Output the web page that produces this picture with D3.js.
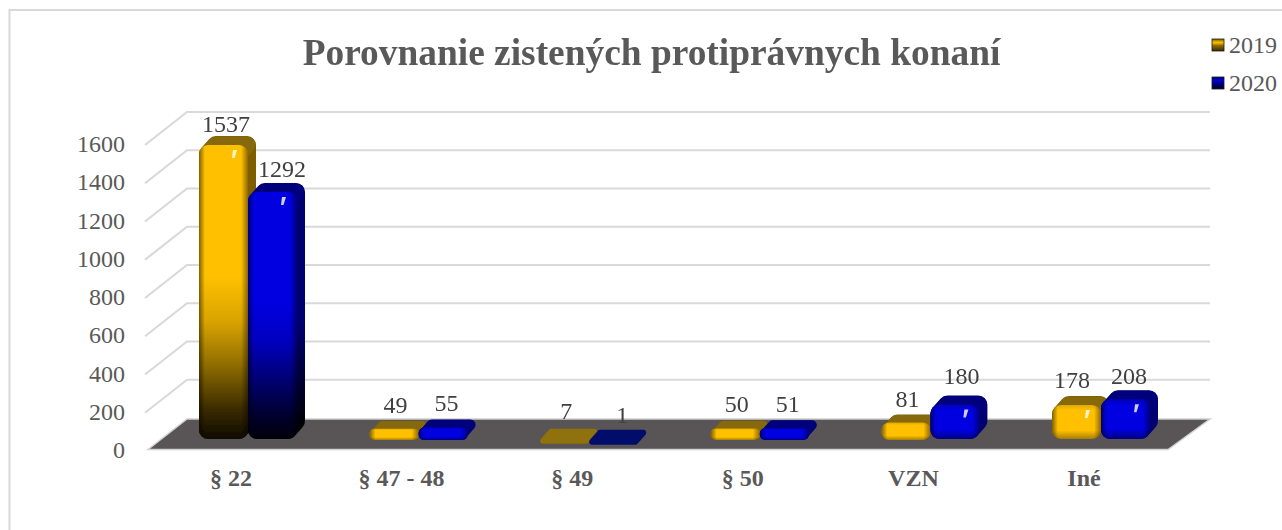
<!DOCTYPE html>
<html lang='en'>
<head>
    <meta charset='UTF-8'>
    <title>Porovnanie zistených protiprávnych konaní</title>
    <style>
        html, body { margin: 0; padding: 0; background: #fff; overflow: hidden; }
        svg { display: block; font-family: 'Liberation Serif', serif; }
        .grid { stroke: #d9d9d9; stroke-width: 2.2px; fill: none; }
        .tick-label { font-size: 24px; fill: #595959; }
        .cat-label { font-size: 24px; font-weight: bold; fill: #595959; }
        .val-label { font-size: 24px; fill: #404040; }
    </style>
</head>
<body>
    <div id="chart-wrapper"></div>
    <script src='https://d3js.org/d3.v7.min.js'></script>
    <script>
        const categories = ['§ 22', '§ 47 - 48', '§ 49', '§ 50', 'VZN', 'Iné']
        const years = ['2019', '2020']
        const values2019 = [1537, 49, 7, 50, 81, 178]
        const values2020 = [1292, 55, 1, 51, 180, 208]
        const yTicks = [0, 200, 400, 600, 800, 1000, 1200, 1400, 1600]
        const titleText = 'Porovnanie zistených protiprávnych konaní'

        const width = 1282
        const height = 530
        const barW = 49
        const depthX = 8 // 3d depth of a bar
        const depthY = 9
        const wallX = 39 // 3d depth of the floor
        const wallY = 30
        const baseLift = 10 // bars stand this far behind the front edge of the floor
        const corner = 9

        const colors = {
            '2019': {
                front: '#ffc000', mid: '#e0a800', side: '#7d5e00', top: '#86680a', flat: '#8f7208',
                fade: ['#d9a300', '#8f6c00', '#3a2b00', '#0f0a00'], low: '#a67d00'
            },
            '2020': {
                front: '#0000e0', mid: '#0000b8', side: '#000070', top: '#00007c', flat: '#000a6a',
                fade: ['#0000c0', '#000078', '#000030', '#000008'], low: '#000080'
            }
        }

        const svg = d3.select('#chart-wrapper').append('svg')
            .attr('width', width)
            .attr('height', height)

        const x = d3.scaleBand().domain(categories).range([148, 1171.6])
        const xSeries = d3.scaleBand().domain(years).range([51, 51 + barW * 2])
        const y = d3.scaleLinear().domain([0, 1600]).range([449, 143])

        // chart frame
        svg.append('path')
            .attr('d', `M${width + 2},10H9.5V${height + 2}`)
            .attr('fill', 'none')
            .attr('stroke', '#d9d9d9')
            .attr('stroke-width', 2)

        // gradients
        const defs = svg.append('defs')
        defs.append('filter').attr('id', 'soft')
            .append('feGaussianBlur').attr('stdDeviation', 0.6)

        years.forEach(year => {
            const c = colors[year]
            const tall = defs.append('linearGradient').attr('id', `tall${year}`)
                .attr('x1', 0).attr('y1', 0).attr('x2', 0).attr('y2', 1)
            tall.append('stop').attr('offset', 0).attr('stop-color', c.front)
            tall.append('stop').attr('offset', 0.45).attr('stop-color', c.front)
            tall.append('stop').attr('offset', 0.6).attr('stop-color', c.fade[0])
            tall.append('stop').attr('offset', 0.75).attr('stop-color', c.fade[1])
            tall.append('stop').attr('offset', 0.9).attr('stop-color', c.fade[2])
            tall.append('stop').attr('offset', 1).attr('stop-color', c.fade[3])

            const short = defs.append('linearGradient').attr('id', `short${year}`)
                .attr('x1', 0).attr('y1', 0).attr('x2', 0).attr('y2', 1)
            short.append('stop').attr('offset', 0).attr('stop-color', c.mid)
            short.append('stop').attr('offset', 0.15).attr('stop-color', c.front)
            short.append('stop').attr('offset', 0.75).attr('stop-color', c.front)
            short.append('stop').attr('offset', 1).attr('stop-color', c.low)

            const sideShade = defs.append('linearGradient').attr('id', `side${year}`)
                .attr('x1', 0).attr('y1', 0).attr('x2', 0).attr('y2', 1)
            sideShade.append('stop').attr('offset', 0).attr('stop-color', c.side)
            sideShade.append('stop').attr('offset', 0.55).attr('stop-color', c.side)
            sideShade.append('stop').attr('offset', 1).attr('stop-color', '#050300')

            const key = defs.append('linearGradient').attr('id', `key${year}`)
                .attr('x1', 0).attr('y1', 0).attr('x2', 0).attr('y2', 1)
            key.append('stop').attr('offset', 0).attr('stop-color', c.side)
            key.append('stop').attr('offset', 0.3).attr('stop-color', c.front)
            key.append('stop').attr('offset', 0.55).attr('stop-color', c.fade[1])
            key.append('stop').attr('offset', 1).attr('stop-color', c.fade[2])
        })
        const edge = defs.append('linearGradient').attr('id', 'edgeShade')
        edge.append('stop').attr('offset', 0).attr('stop-color', '#000').attr('stop-opacity', 0.5)
        edge.append('stop').attr('offset', 0.12).attr('stop-color', '#000').attr('stop-opacity', 0)
        edge.append('stop').attr('offset', 0.86).attr('stop-color', '#000').attr('stop-opacity', 0)
        edge.append('stop').attr('offset', 1).attr('stop-color', '#000').attr('stop-opacity', 0.45)

        // back wall grid + side wall diagonals
        const floorLeft = x.range()[0]
        const floorRight = 1168
        const gridG = svg.append('g')
        gridG.selectAll('path')
            .data(yTicks.filter(d => d > 0))
            .join('path')
            .attr('class', 'grid')
            .attr('d', d => `M${floorLeft - 3},${y(d) + 2}L${floorLeft + wallX},${y(d) - wallY - 1}H1210`)

        // floor
        svg.append('path')
            .attr('d', `M${floorLeft},${y(0) + 0.5}L${floorLeft + wallX},${y(0) - wallY}H1210L${floorRight},${y(0) + 0.5}Z`)
            .attr('fill', '#595455')
            .attr('stroke', '#d0d0d0')
            .attr('stroke-width', 1.5)
            .attr('stroke-linejoin', 'miter')

        // y axis
        const yAxis = d3.axisLeft(y).tickValues(yTicks).tickFormat(d3.format('d')).tickSize(0).tickPadding(0)
        const yG = svg.append('g')
            .attr('transform', 'translate(125,1)')
            .call(yAxis)
            .attr('font-family', null)
            .attr('font-size', null)
        yG.select('.domain').remove()
        yG.selectAll('text')
            .attr('class', 'tick-label')
            .attr('fill', null)

        // category labels
        svg.append('g').selectAll('text')
            .data(categories)
            .join('text')
            .attr('class', 'cat-label')
            .attr('text-anchor', 'middle')
            .attr('x', d => x(d) + 83)
            .attr('y', 486)
            .text(d => d)

        // small manual label moves, the way the source chart has them
        const labelNudgeX = { '2019-§ 22': 1, '2020-§ 22': 6, '2020-§ 49': 5, '2020-VZN': 3, '2019-Iné': -6 }
        const labelNudgeY = {
            '2019-§ 22': 4, '2020-§ 22': 2, '2019-§ 49': -2, '2020-§ 49': 1,
            '2020-VZN': -4, '2020-Iné': 2
        }
        const labels = []

        function drawBar(g, year, category, value) {
            const c = colors[year]
            const left = x(category) + xSeries(year)
            const base = y(0) - baseLift
            const h = y(0) - y(value)
            const topY = base - h
            const r = Math.min(corner, Math.max(h / 2, 3))
            const isTall = value > 500
            const isFlat = value < 10
            const lowY = Math.max(base - r, topY + r)
            const grow = h < 20 ? 1 : 0 // the low bars read a little thicker in the front

            // silhouette of side + top, rounded by the stroke join
            const hullPoints = [
                [left + r, lowY],
                [left + r, topY + r],
                [left + r + depthX, topY + r - depthY],
                [left + barW - r + depthX, topY + r - depthY],
                [left + barW - r + depthX, lowY - depthY],
                [left + barW - r, lowY]
            ]
            const hullFill = isFlat ? c.flat : (isTall ? `url(#side${year})` : c.side)
            g.append('path')
                .attr('d', d3.line()(hullPoints) + 'Z')
                .attr('fill', hullFill)
                .attr('stroke', hullFill)
                .attr('stroke-width', r * 2)
                .attr('stroke-linejoin', 'round')

            if (!isFlat) {
                // top face, slightly lighter than the side
                g.append('path')
                    .attr('d', d3.line()([
                        [left + r, topY + r],
                        [left + r + depthX, topY + r - depthY],
                        [left + barW - r + depthX, topY + r - depthY],
                        [left + barW - r, topY + r]
                    ]) + 'Z')
                    .attr('fill', c.top)
                    .attr('stroke', c.top)
                    .attr('stroke-width', r * 2 - 1)
                    .attr('stroke-linejoin', 'round')

                // front face
                g.append('rect')
                    .attr('x', left)
                    .attr('y', topY - grow)
                    .attr('width', barW)
                    .attr('height', h + grow * 2)
                    .attr('rx', r)
                    .attr('fill', isTall ? `url(#tall${year})` : `url(#short${year})`)
                g.append('rect')
                    .attr('x', left)
                    .attr('y', topY - grow)
                    .attr('width', barW)
                    .attr('height', h + grow * 2)
                    .attr('rx', r)
                    .attr('fill', 'url(#edgeShade)')

                // glint
                if (h > 25) {
                    g.append('path')
                        .attr('d', d3.line()([
                            [left + 34, topY + 5], [left + 38, topY + 5],
                            [left + 35.5, topY + 13], [left + 33, topY + 13]
                        ]) + 'Z')
                        .attr('fill', '#fff')
                        .attr('opacity', 0.8)
                }
            }

            const key = `${year}-${category}`
            labels.push({
                text: value,
                x: left + (year === '2019' ? 26 : 28) + (labelNudgeX[key] || 0),
                y: topY - depthY - 8 + (labelNudgeY[key] || 0)
            })
        }

        // bars, left to right so each one overlaps the previous
        const barsG = svg.append('g').attr('filter', 'url(#soft)')
        categories.forEach((category, i) => {
            drawBar(barsG, '2019', category, values2019[i])
            drawBar(barsG, '2020', category, values2020[i])
        })

        // data labels stay sharp, above the soft bars
        svg.append('g').selectAll('text')
            .data(labels)
            .join('text')
            .attr('class', 'val-label')
            .attr('text-anchor', 'middle')
            .attr('x', d => d.x)
            .attr('y', d => d.y)
            .text(d => d.text)

        // title
        svg.append('text')
            .attr('x', 651.5)
            .attr('y', 65)
            .attr('text-anchor', 'middle')
            .attr('font-size', 37.4)
            .attr('font-weight', 'bold')
            .attr('fill', '#595959')
            .text(titleText)

        // legend
        const legend = svg.append('g').selectAll('g')
            .data(years)
            .join('g')
            .attr('transform', (d, i) => `translate(1212,${45 + i * 38})`)
        legend.append('rect')
            .attr('width', 12)
            .attr('height', 12)
            .attr('y', -6)
            .attr('fill', d => `url(#key${d})`)
            .attr('stroke', '#1a1a1a')
            .attr('stroke-width', 0.8)
        legend.append('text')
            .attr('class', 'tick-label')
            .attr('x', 17)
            .attr('y', 8)
            .text(d => d)
    </script>
</body>
</html>
